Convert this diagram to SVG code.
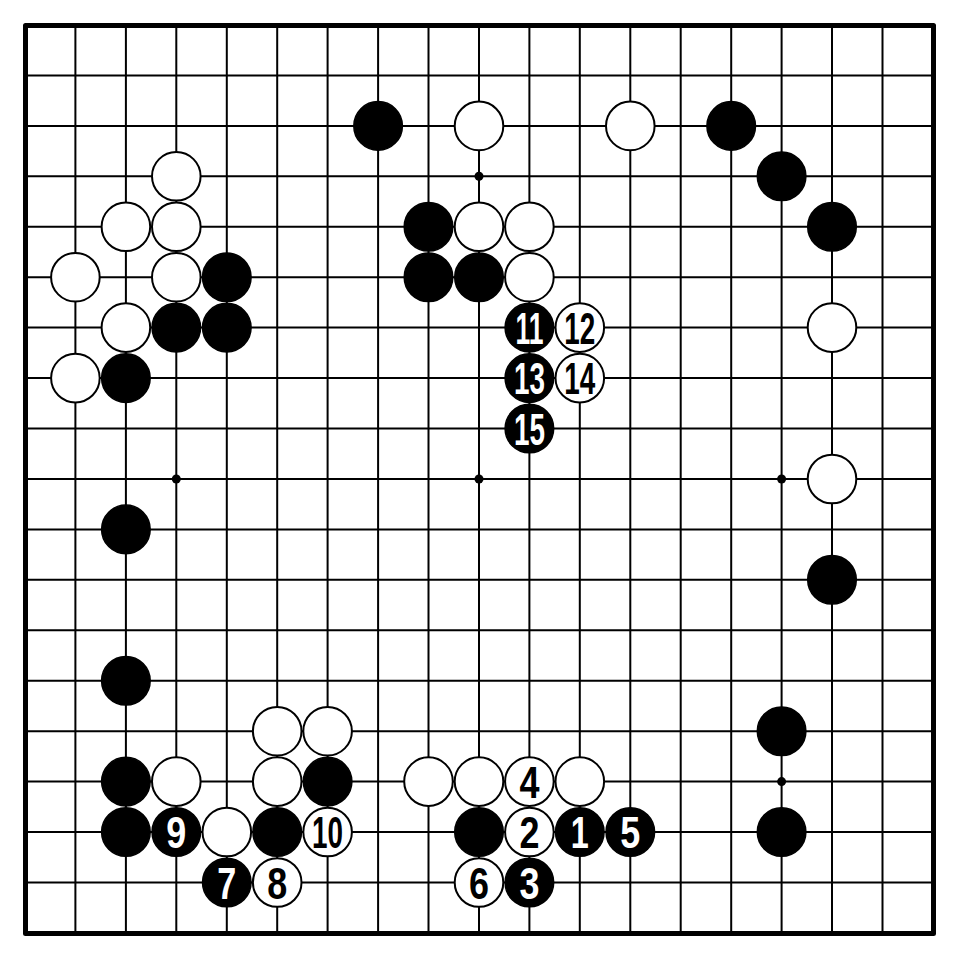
<svg xmlns="http://www.w3.org/2000/svg" width="960" height="962" viewBox="0 0 960 962">
<style>
.g{stroke:#000;stroke-width:2;fill:none}
.b{fill:#000;stroke:#000;stroke-width:1.5}
.w{fill:#fff;stroke:#000;stroke-width:2}
.n{font-family:"Liberation Sans",Arial,sans-serif;font-size:44px;font-weight:bold;text-anchor:middle}
.nb{fill:#fff}
.nw{fill:#000}
</style>
<rect width="960" height="962" fill="#fff"/>
<g id="grid">
<path class="g" d="M25 75.4H933M25 125.9H933M25 176.3H933M25 226.8H933M25 277.2H933M25 327.6H933M25 378.1H933M25 428.5H933M25 479H933M25 529.4H933M25 579.8H933M25 630.3H933M25 680.7H933M25 731.2H933M25 781.6H933M25 832H933M25 882.5H933"/>
<path class="g" d="M75.4 25V933M125.9 25V933M176.3 25V933M226.8 25V933M277.2 25V933M327.6 25V933M378.1 25V933M428.5 25V933M479 25V933M529.4 25V933M579.8 25V933M630.3 25V933M680.7 25V933M731.2 25V933M781.6 25V933M832 25V933M882.5 25V933"/>
<rect x="25.5" y="25.5" width="908" height="908" fill="none" stroke="#000" stroke-width="5" stroke-linejoin="round"/>
<g fill="#000">
<circle cx="176.3" cy="176.3" r="4.5"/><circle cx="479" cy="176.3" r="4.5"/><circle cx="781.6" cy="176.3" r="4.5"/>
<circle cx="176.3" cy="479" r="4.5"/><circle cx="479" cy="479" r="4.5"/><circle cx="781.6" cy="479" r="4.5"/>
<circle cx="176.3" cy="781.6" r="4.5"/><circle cx="479" cy="781.6" r="4.5"/><circle cx="781.6" cy="781.6" r="4.5"/>
</g>
</g>
<g id="stones">
<circle class="b" cx="378.1" cy="125.9" r="24.3"/>
<circle class="w" cx="479" cy="125.9" r="24.3"/>
<circle class="w" cx="630.3" cy="125.9" r="24.3"/>
<circle class="b" cx="731.2" cy="125.9" r="24.3"/>
<circle class="w" cx="176.3" cy="176.3" r="24.3"/>
<circle class="b" cx="781.6" cy="176.3" r="24.3"/>
<circle class="w" cx="125.9" cy="226.8" r="24.3"/>
<circle class="w" cx="176.3" cy="226.8" r="24.3"/>
<circle class="b" cx="428.5" cy="226.8" r="24.3"/>
<circle class="w" cx="479" cy="226.8" r="24.3"/>
<circle class="w" cx="529.4" cy="226.8" r="24.3"/>
<circle class="b" cx="832" cy="226.8" r="24.3"/>
<circle class="w" cx="75.4" cy="277.2" r="24.3"/>
<circle class="w" cx="176.3" cy="277.2" r="24.3"/>
<circle class="b" cx="226.8" cy="277.2" r="24.3"/>
<circle class="b" cx="428.5" cy="277.2" r="24.3"/>
<circle class="b" cx="479" cy="277.2" r="24.3"/>
<circle class="w" cx="529.4" cy="277.2" r="24.3"/>
<circle class="w" cx="125.9" cy="327.6" r="24.3"/>
<circle class="b" cx="176.3" cy="327.6" r="24.3"/>
<circle class="b" cx="226.8" cy="327.6" r="24.3"/>
<circle class="w" cx="832" cy="327.6" r="24.3"/>
<circle class="w" cx="75.4" cy="378.1" r="24.3"/>
<circle class="b" cx="125.9" cy="378.1" r="24.3"/>
<circle class="w" cx="832" cy="479" r="24.3"/>
<circle class="b" cx="125.9" cy="529.4" r="24.3"/>
<circle class="b" cx="832" cy="579.8" r="24.3"/>
<circle class="b" cx="125.9" cy="680.7" r="24.3"/>
<circle class="w" cx="277.2" cy="731.2" r="24.3"/>
<circle class="w" cx="327.6" cy="731.2" r="24.3"/>
<circle class="b" cx="781.6" cy="731.2" r="24.3"/>
<circle class="b" cx="125.9" cy="781.6" r="24.3"/>
<circle class="w" cx="176.3" cy="781.6" r="24.3"/>
<circle class="w" cx="277.2" cy="781.6" r="24.3"/>
<circle class="b" cx="327.6" cy="781.6" r="24.3"/>
<circle class="w" cx="428.5" cy="781.6" r="24.3"/>
<circle class="w" cx="479" cy="781.6" r="24.3"/>
<circle class="w" cx="579.8" cy="781.6" r="24.3"/>
<circle class="b" cx="125.9" cy="832" r="24.3"/>
<circle class="w" cx="226.8" cy="832" r="24.3"/>
<circle class="b" cx="277.2" cy="832" r="24.3"/>
<circle class="b" cx="479" cy="832" r="24.3"/>
<circle class="b" cx="781.6" cy="832" r="24.3"/>
</g>
<g id="moves">
<g id="m1"><circle class="b" cx="579.8" cy="832" r="24.3"/><text class="n nb" x="579.8" y="848" textLength="18" lengthAdjust="spacingAndGlyphs">1</text></g>
<g id="m2"><circle class="w" cx="529.4" cy="832" r="24.3"/><text class="n nw" x="529.4" y="848" textLength="20" lengthAdjust="spacingAndGlyphs">2</text></g>
<g id="m3"><circle class="b" cx="529.4" cy="882.5" r="24.3"/><text class="n nb" x="529.4" y="898.5" textLength="20" lengthAdjust="spacingAndGlyphs">3</text></g>
<g id="m4"><circle class="w" cx="529.4" cy="781.6" r="24.3"/><text class="n nw" x="529.4" y="797.6" textLength="20" lengthAdjust="spacingAndGlyphs">4</text></g>
<g id="m5"><circle class="b" cx="630.3" cy="832" r="24.3"/><text class="n nb" x="630.3" y="848" textLength="20" lengthAdjust="spacingAndGlyphs">5</text></g>
<g id="m6"><circle class="w" cx="479" cy="882.5" r="24.3"/><text class="n nw" x="479" y="898.5" textLength="20" lengthAdjust="spacingAndGlyphs">6</text></g>
<g id="m7"><circle class="b" cx="226.8" cy="882.5" r="24.3"/><text class="n nb" x="226.8" y="898.5" textLength="19" lengthAdjust="spacingAndGlyphs">7</text></g>
<g id="m8"><circle class="w" cx="277.2" cy="882.5" r="24.3"/><text class="n nw" x="277.2" y="898.5" textLength="20" lengthAdjust="spacingAndGlyphs">8</text></g>
<g id="m9"><circle class="b" cx="176.3" cy="832" r="24.3"/><text class="n nb" x="176.3" y="848" textLength="20" lengthAdjust="spacingAndGlyphs">9</text></g>
<g id="m10"><circle class="w" cx="327.6" cy="832" r="24.3"/><text class="n nw" x="327.6" y="848" textLength="31" lengthAdjust="spacingAndGlyphs">10</text></g>
<g id="m11"><circle class="b" cx="529.4" cy="327.6" r="24.3"/><text class="n nb" x="529.4" y="343.6" textLength="28" lengthAdjust="spacingAndGlyphs">11</text></g>
<g id="m12"><circle class="w" cx="579.8" cy="327.6" r="24.3"/><text class="n nw" x="579.8" y="343.6" textLength="31" lengthAdjust="spacingAndGlyphs">12</text></g>
<g id="m13"><circle class="b" cx="529.4" cy="378.1" r="24.3"/><text class="n nb" x="529.4" y="394.1" textLength="31" lengthAdjust="spacingAndGlyphs">13</text></g>
<g id="m14"><circle class="w" cx="579.8" cy="378.1" r="24.3"/><text class="n nw" x="579.8" y="394.1" textLength="31" lengthAdjust="spacingAndGlyphs">14</text></g>
<g id="m15"><circle class="b" cx="529.4" cy="428.5" r="24.3"/><text class="n nb" x="529.4" y="444.5" textLength="31" lengthAdjust="spacingAndGlyphs">15</text></g>
</g>
</svg>
